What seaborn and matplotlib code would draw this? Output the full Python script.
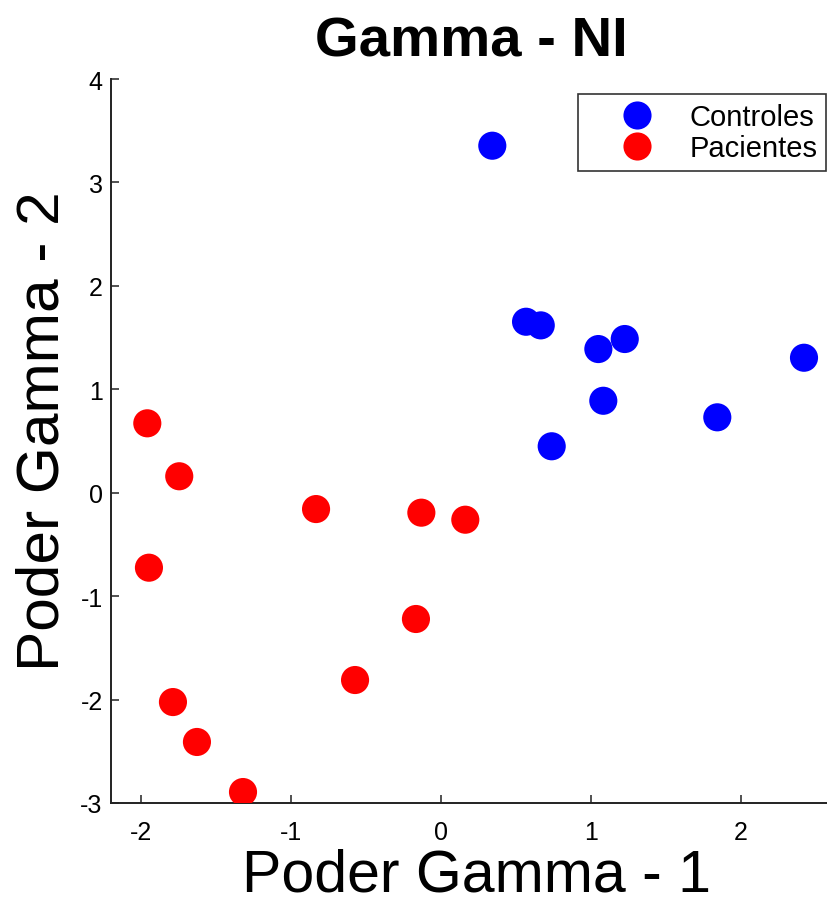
import matplotlib
matplotlib.use("Agg")
import matplotlib.pyplot as plt
import seaborn as sns
import pandas as pd

# Gamma power components per subject
controles_x = [0.342, 0.567, 0.665, 1.049, 1.225, 2.420, 1.082, 1.842, 0.738]
controles_y = [3.355, 1.653, 1.618, 1.389, 1.486, 1.305, 0.889, 0.729, 0.449]
pacientes_x = [-1.958, -1.745, -1.947, -0.833, -0.131, 0.162, -0.167, -0.573, -1.787, -1.627, -1.320]
pacientes_y = [0.671, 0.159, -0.725, -0.158, -0.193, -0.261, -1.221, -1.811, -2.024, -2.410, -2.894]

groups = ["Controles", "Pacientes"]
colors = ["#0000ff", "#ff0000"]
x_ticks = [-2, -1, 0, 1, 2]
y_ticks = [-3, -2, -1, 0, 1, 2, 3, 4]

df = pd.DataFrame({
    "g1": controles_x + pacientes_x,
    "g2": controles_y + pacientes_y,
    "grupo": [groups[0]] * len(controles_x) + [groups[1]] * len(pacientes_x),
})

sns.set_style("white")
plt.rcParams["font.family"] = ["Liberation Sans", "DejaVu Sans"]
plt.rcParams["text.color"] = "black"
plt.rcParams["axes.labelcolor"] = "black"

fig = plt.figure(figsize=(8.28, 9.03), dpi=100)
ax = fig.add_axes([111 / 828, 99 / 903, 720 / 828, 724 / 903])

sns.scatterplot(data=df, x="g1", y="g2", hue="grupo", hue_order=groups,
                palette=colors, s=410, edgecolor="none", ax=ax, zorder=3)

ax.set_xlim(-2.2, 2.6)
ax.set_ylim(-3, 4)
ax.set_xticks(x_ticks)
ax.set_yticks(y_ticks)
ax.set_xticklabels([str(t) for t in x_ticks])
ax.set_yticklabels([str(t) for t in y_ticks])
ax.tick_params(bottom=True, left=True, direction="in", length=6, width=1.2,
               labelsize=18, color="#333333", labelcolor="black")
ax.tick_params(axis="x", pad=12)
ax.tick_params(axis="y", pad=6)

for side in ["top", "right"]:
    ax.spines[side].set_visible(False)
for side in ["left", "bottom"]:
    ax.spines[side].set_color("#222222")
    ax.spines[side].set_linewidth(1.4)

ax.set_xlabel("Poder Gamma - 1", fontsize=42.5)
ax.xaxis.set_label_coords(0.508, -0.061, transform=ax.transAxes)
ax.xaxis.label.set_va("top")
ax.set_ylabel("Poder Gamma - 2", fontsize=43.5)
ax.yaxis.set_label_coords(-0.056, 0.515, transform=ax.transAxes)
ax.set_title("Gamma - NI", fontsize=40.5, fontweight="bold", pad=17)

leg = ax.legend(loc="upper right", bbox_to_anchor=(0.993, 0.979), fontsize=21,
                frameon=True, fancybox=False, framealpha=1, edgecolor="#333333",
                handlelength=3.4, handletextpad=0.1, borderpad=0.3,
                labelspacing=0.12, borderaxespad=0)
leg.get_frame().set_linewidth(1.2)
for h in leg.legend_handles:
    if hasattr(h, "set_sizes"):
        h.set_sizes([410])

fig.savefig("out.png", dpi=100)
